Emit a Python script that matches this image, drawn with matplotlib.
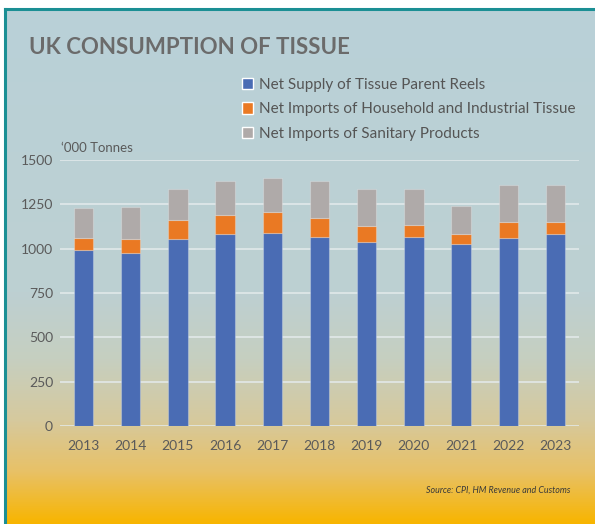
import numpy as np
import matplotlib.pyplot as plt
from matplotlib.colors import LinearSegmentedColormap
from matplotlib.patches import Patch
from matplotlib.lines import Line2D

years = ['2013', '2014', '2015', '2016', '2017', '2018', '2019', '2020', '2021', '2022', '2023']
parent_reels = [994, 975, 1057, 1083, 1090, 1068, 1040, 1066, 1026, 1060, 1083]
household_imports = [68, 78, 103, 107, 117, 104, 86, 68, 57, 91, 68]
sanitary_imports = [166, 181, 175, 191, 194, 209, 209, 203, 156, 208, 208]

series_names = ['Net Supply of Tissue Parent Reels',
                'Net Imports of Household and Industrial Tissue',
                'Net Imports of Sanitary Products']
colors = ['#4a6cb4', '#ea7923', '#afaaa9']

plt.rcParams['font.family'] = ['Lato', 'DejaVu Sans']

fig = plt.figure(figsize=(5.95, 5.24), dpi=100)
fig.patch.set_facecolor('white')

# background panel with vertical gradient
bg = fig.add_axes([0, 0, 1, 1], zorder=-10)
bg.set_xlim(0, 595)
bg.set_ylim(524, 0)
bg.axis('off')
grad = LinearSegmentedColormap.from_list('panel', [
    (0.0, '#b9d1d8'), (0.55, '#bdd0d2'), (0.68, '#c6cfc0'),
    (0.80, '#d6c99d'), (0.90, '#e8c166'), (1.0, '#f8b500')])
g = np.linspace(0, 1, 256).reshape(-1, 1)
bg.imshow(g, cmap=grad, extent=(6, 595, 524, 10), aspect='auto')
bg.add_line(Line2D([5, 5], [524, 9], color='#1b8f94', lw=2.2))
bg.add_line(Line2D([5, 595], [9, 9], color='#1b8f94', lw=2.2))

ax = fig.add_axes([60 / 595, 98 / 524, 519 / 595, 266 / 524])
ax.set_facecolor('none')
x = np.arange(len(years))
w = 0.41
edge = (1, 1, 1, 0.25)
ax.bar(x, parent_reels, w, color=colors[0], edgecolor=edge, lw=0.8, zorder=3)
bottom2 = np.array(parent_reels)
ax.bar(x, household_imports, w, bottom=bottom2, color=colors[1],
       edgecolor=edge, lw=0.8, zorder=3)
bottom3 = bottom2 + np.array(household_imports)
ax.bar(x, sanitary_imports, w, bottom=bottom3, color=colors[2],
       edgecolor=edge, lw=0.8, zorder=3)

ax.set_xlim(-0.5, len(years) - 0.5)
ax.set_ylim(0, 1500)
ax.set_yticks(range(0, 1501, 250))
ax.set_xticks(x)
ax.set_xticklabels(years)
ax.grid(axis='y', color='#e4ebec', lw=1.1, zorder=0)
for s in ax.spines.values():
    s.set_visible(False)
ax.tick_params(axis='both', length=0, labelsize=10, colors='#5a5a5a')
ax.tick_params(axis='x', pad=10)
ax.tick_params(axis='y', pad=5)

fig.text(29 / 595, 1 - 47 / 524, 'UK CONSUMPTION OF TISSUE', fontsize=16,
         fontweight='bold', color='#6b6b6b', va='center', ha='left')
fig.text(61 / 595, 1 - 148 / 524, '\u2018000 Tonnes', fontsize=9.5,
         color='#5a5a5a', va='center', ha='left')
fig.text(570 / 595, 1 - 490 / 524, 'Source: CPI, HM Revenue and Customs',
         fontsize=6.4, style='italic', color='#3a3a3a', va='center', ha='right')

handles = [Patch(facecolor=c, edgecolor='white', lw=1.0) for c in colors]
fig.legend(handles, series_names, loc='upper left',
           bbox_to_anchor=(242 / 595, 1 - 78 / 524), frameon=False,
           fontsize=11, handlelength=0.75, handleheight=0.75,
           handletextpad=0.35, labelspacing=0.68, labelcolor='#555555',
           borderaxespad=0, borderpad=0)

fig.savefig('out.png', dpi=100)
